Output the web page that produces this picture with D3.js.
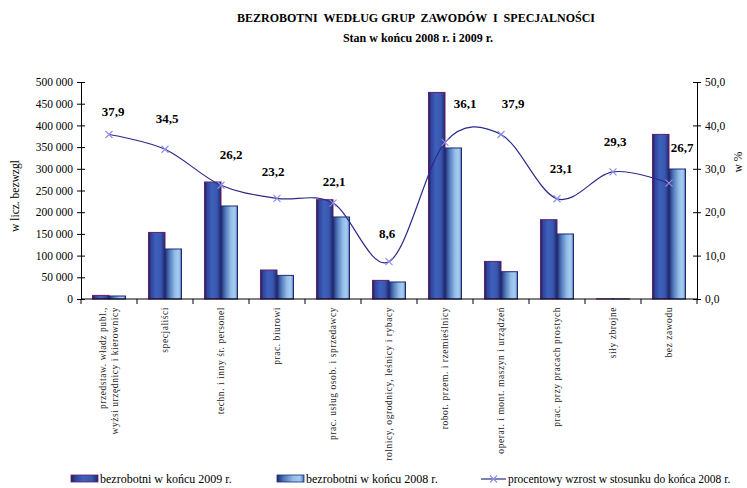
<!DOCTYPE html>
<html><head><meta charset="utf-8">
<script src="https://cdn.jsdelivr.net/npm/d3@7"></script>
<style>body{margin:0;background:#fff}svg{display:block}</style>
</head><body>
<script>
const categories = [
  ["przedstaw. władz publ.,", "wyżsi urzędnicy i kierownicy"],
  ["specjaliści"],
  ["techn. i inny śr. personel"],
  ["prac. biurowi"],
  ["prac. usług osob. i sprzedawcy"],
  ["rolnicy, ogrodnicy, leśnicy i rybacy"],
  ["robot. przem. i rzemieślnicy"],
  ["operat. i mont. maszyn i urządzeń"],
  ["prac. przy pracach prostych"],
  ["siły zbrojne"],
  ["bez zawodu"]
];
const values2009 = [8300, 153400, 269600, 66800, 228800, 42900, 476000, 86600, 182700, 350, 379300];
const values2008 = [6900, 115200, 214300, 54400, 189000, 39200, 348000, 62900, 149800, 270, 299500];
const percentGrowth = [37.9, 34.5, 26.2, 23.2, 22.1, 8.6, 36.1, 37.9, 23.1, 29.3, 26.7];
const leftTicks = [0, 50000, 100000, 150000, 200000, 250000, 300000, 350000, 400000, 450000, 500000];
const rightTicks = [0, 10, 20, 30, 40, 50];
const seriesNames = ["bezrobotni  w  końcu  2009 r.", "bezrobotni  w  końcu  2008 r.", "procentowy wzrost w stosunku do końca 2008 r."];

const W = 747, H = 488;
const L = 81, R = 697, T = 82, B = 299;
const svg = d3.select("body").append("svg").attr("width", W).attr("height", H)
  .style("font-family", "'Liberation Serif','Times New Roman',serif");

const defs = svg.append("defs");
function grad(id, stops) {
  const g = defs.append("linearGradient").attr("id", id).attr("x1", "0%").attr("x2", "100%").attr("y1", "0%").attr("y2", "0%");
  stops.forEach(s => g.append("stop").attr("offset", s[0]).attr("stop-color", s[1]));
}
grad("g2009", [["0%", "#1b2260"], ["18%", "#2f48a0"], ["45%", "#3f60bb"], ["75%", "#3858b0"], ["100%", "#1e2a70"]]);
grad("g2008", [["0%", "#1e2a70"], ["25%", "#4d76b8"], ["60%", "#93bde8"], ["85%", "#a7cdf0"], ["100%", "#4a6fae"]]);

const x = d3.scaleBand().domain(d3.range(categories.length)).range([L, R]).paddingInner(0).paddingOuter(0);
const y = d3.scaleLinear().domain([0, 500000]).range([B, T]);
const y2 = d3.scaleLinear().domain([0, 50]).range([B, T]);

// bars
const barW = 16.5;
const g = svg.append("g");
g.selectAll("rect.b09").data(values2009).join("rect")
  .attr("x", (d, i) => x(i) + x.bandwidth() / 2 - barW)
  .attr("y", d => y(d)).attr("width", barW).attr("height", d => B - y(d))
  .attr("fill", "url(#g2009)").attr("stroke", "#6a1a6a").attr("stroke-width", 1);
g.selectAll("rect.b08").data(values2008).join("rect")
  .attr("x", (d, i) => x(i) + x.bandwidth() / 2)
  .attr("y", d => y(d)).attr("width", barW).attr("height", d => B - y(d))
  .attr("fill", "url(#g2008)").attr("stroke", "#1c2a78").attr("stroke-width", 1);

// axes
const axL = svg.append("g").attr("transform", `translate(${L},0)`)
  .call(d3.axisLeft(y).tickValues(leftTicks).tickSize(4)
    .tickFormat(d => d3.format(",")(d).replace(/,/g, " ")));
axL.selectAll(".tick line").attr("x2", 4).attr("x1", -4);
const axR = svg.append("g").attr("transform", `translate(${R},0)`)
  .call(d3.axisRight(y2).tickValues(rightTicks).tickSize(4)
    .tickFormat(d => d3.format(".1f")(d).replace(".", ",")));
axR.selectAll(".tick line").attr("x1", -4).attr("x2", 4);
const axB = svg.append("g").attr("transform", `translate(0,${B})`);
axB.append("line").attr("x1", L).attr("x2", R).attr("stroke", "#000");
axB.selectAll("line.t").data(d3.range(categories.length + 1)).join("line")
  .attr("x1", i => L + i * x.bandwidth()).attr("x2", i => L + i * x.bandwidth())
  .attr("y1", 0).attr("y2", 5).attr("stroke", "#000");
[axL, axR].forEach(a => {
  a.select(".domain").attr("stroke", "#000");
  a.selectAll("text").attr("font-size", 11.5).attr("font-family", "'Liberation Serif',serif").attr("fill", "#000");
});
axL.selectAll(".tick text").attr("x", -8);
axR.selectAll(".tick text").attr("x", 8);

// category labels
categories.forEach((lines, i) => {
  const cx = x(i) + x.bandwidth() / 2;
  const n = lines.length;
  lines.forEach((t, k) => {
    svg.append("text")
      .attr("transform", `translate(${cx + (k - (n - 1) / 2) * 12 + 3},${B + 8}) rotate(-90)`)
      .attr("text-anchor", "end").attr("font-size", 9.5).attr("letter-spacing", 0.55).attr("fill", "#222")
      .text(t);
  });
});

// line
const line = d3.line().x((d, i) => x(i) + x.bandwidth() / 2).y(d => y2(d)).curve(d3.curveCardinal.tension(0));
svg.append("path").attr("d", line(percentGrowth)).attr("fill", "none").attr("stroke", "#2a2a8a").attr("stroke-width", 1.2);
const s = 3.5;
// label placement nudges (layout only)
const labelDx = [4, 2, 10, -4, 1, -2, 20, 12, 4, 2, 13];
const labelDy = [-23, -31, -31, -27, -22, -28, -39, -31, -30, -30, -36];
percentGrowth.forEach((d, i) => {
  const cx = x(i) + x.bandwidth() / 2, cy = y2(d);
  svg.append("path").attr("d", `M${cx - s},${cy - s}L${cx + s},${cy + s}M${cx - s},${cy + s}L${cx + s},${cy - s}`)
    .attr("stroke", "#8f8fe6").attr("stroke-width", 1.2);
  svg.append("text").attr("x", cx + labelDx[i]).attr("y", cy + labelDy[i] + 4.5).attr("text-anchor", "middle")
    .attr("font-size", 13).attr("font-weight", "bold").attr("fill", "#000")
    .text(d3.format(".1f")(d).replace(".", ","));
});

// titles
svg.append("text").attr("x", 416).attr("y", 22).attr("text-anchor", "middle").attr("font-size", 12).attr("font-weight", "bold")
  .style("white-space", "pre").attr("xml:space", "preserve").text("BEZROBOTNI  WEDŁUG GRUP  ZAWODÓW  I  SPECJALNOŚCI");
svg.append("text").attr("x", 418).attr("y", 42).attr("text-anchor", "middle").attr("font-size", 12).attr("font-weight", "bold")
  .text("Stan w końcu 2008 r. i 2009 r.");
svg.append("text").attr("transform", "translate(19,196) rotate(-90)").attr("text-anchor", "middle").attr("font-size", 11.5).text("w licz. bezwzgl");
svg.append("text").attr("transform", "translate(742,162) rotate(-90)").attr("text-anchor", "middle").attr("font-size", 11.5).text("w %");

// legend
const lg = svg.append("g").attr("font-size", 12);
lg.append("rect").attr("x", 71).attr("y", 475).attr("width", 27).attr("height", 7).attr("fill", "url(#g2009)").attr("stroke", "#6a1a6a").attr("stroke-width", 0.8);
lg.append("text").attr("x", 100).attr("y", 483).text(seriesNames[0]);
lg.append("rect").attr("x", 277).attr("y", 475).attr("width", 27).attr("height", 7).attr("fill", "url(#g2008)").attr("stroke", "#1c2a78").attr("stroke-width", 0.8);
lg.append("text").attr("x", 306).attr("y", 483).text(seriesNames[1]);
lg.append("line").attr("x1", 481).attr("x2", 506).attr("y1", 479).attr("y2", 479).attr("stroke", "#2a2a8a").attr("stroke-width", 1.2);
lg.append("path").attr("d", `M${493.5 - s},${479 - s}L${493.5 + s},${479 + s}M${493.5 - s},${479 + s}L${493.5 + s},${479 - s}`).attr("stroke", "#8f8fe6").attr("stroke-width", 1.2);
lg.append("text").attr("x", 508).attr("y", 483).attr("font-size", 11.5).text(seriesNames[2]);
</script>
</body></html>
